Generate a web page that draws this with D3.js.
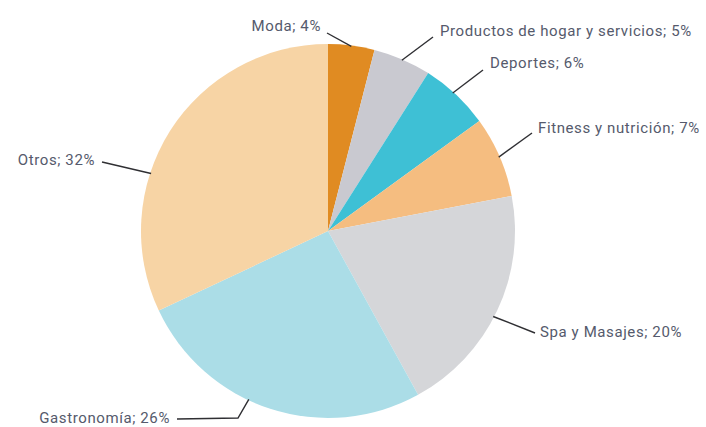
<!DOCTYPE html>
<html>
<head>
<meta charset="utf-8">
<script src="https://cdn.jsdelivr.net/npm/d3@7"></script>
<style>
  body { margin: 0; background: white; }
  .lbl { font-family: Roboto, "Open Sans", sans-serif; font-size: 15px; fill: #555a6c; letter-spacing: 0.6px; }
</style>
</head>
<body>
<script>
// datos
const categories = ["Moda", "Productos de hogar y servicios", "Deportes", "Fitness y nutrición", "Spa y Masajes", "Gastronomía", "Otros"];
const values = [4, 5, 6, 7, 20, 26, 32];
const colors = ["#e08b22", "#c9c9d0", "#3ec0d5", "#f5bd80", "#d5d6d9", "#abdde7", "#f7d4a5"];

const width = 706, height = 427;
const cx = 328, cy = 231, radius = 187;

const svg = d3.select("body").append("svg")
    .attr("width", width).attr("height", height);
const g = svg.append("g").attr("transform", `translate(${cx}, ${cy})`);

const pie = d3.pie().sort(null).value(d => d.value);
const arcs = pie(categories.map((c, i) => ({name: c, value: values[i], color: colors[i]})));
const arc = d3.arc().innerRadius(0).outerRadius(radius);

g.selectAll("path.slice")
    .data(arcs).join("path")
    .attr("class", "slice")
    .attr("d", arc)
    .attr("fill", d => d.data.color);

// posicion de etiquetas (desplazamiento angular del arranque, puntos de la guia, texto)
const labelLayout = [
    {shift: 0,      pts: [[-1, -198]],             tx: -7,   ty: -205, anchor: "end"},
    {shift: 0,      pts: [[105, -194]],            tx: 112,  ty: -200, anchor: "start"},
    {shift: -0.003, pts: [[155, -161]],            tx: 162,  ty: -168, anchor: "start"},
    {shift: 0,      pts: [[204, -98]],             tx: 210,  ty: -103, anchor: "start"},
    {shift: 0.006,  pts: [[207, 102]],             tx: 212,  ty: 101,  anchor: "start"},
    {shift: 0.02,   pts: [[-90, 187], [-151, 188]], tx: -158, ty: 187,  anchor: "end"},
    {shift: -0.04,  pts: [[-226, -69]],            tx: -233, ty: -71,  anchor: "end"}
];

const labels = g.selectAll("g.label")
    .data(arcs).join("g")
    .attr("class", "label");

labels.append("polyline")
    .attr("fill", "none")
    .attr("stroke", "#2f2f33")
    .attr("stroke-width", 1.4)
    .attr("points", (d, i) => {
        const L = labelLayout[i];
        const a = (d.startAngle + d.endAngle) / 2 + L.shift * 2 * Math.PI;
        const start = [Math.sin(a) * (radius - 1), -Math.cos(a) * (radius - 1)];
        return [start].concat(L.pts).map(p => p.join(",")).join(" ");
    });

labels.append("text")
    .attr("class", "lbl")
    .attr("x", (d, i) => labelLayout[i].tx)
    .attr("y", (d, i) => labelLayout[i].ty)
    .attr("dy", "0.35em")
    .attr("text-anchor", (d, i) => labelLayout[i].anchor)
    .text(d => `${d.data.name}; ${d.data.value}%`);
</script>
</body>
</html>
